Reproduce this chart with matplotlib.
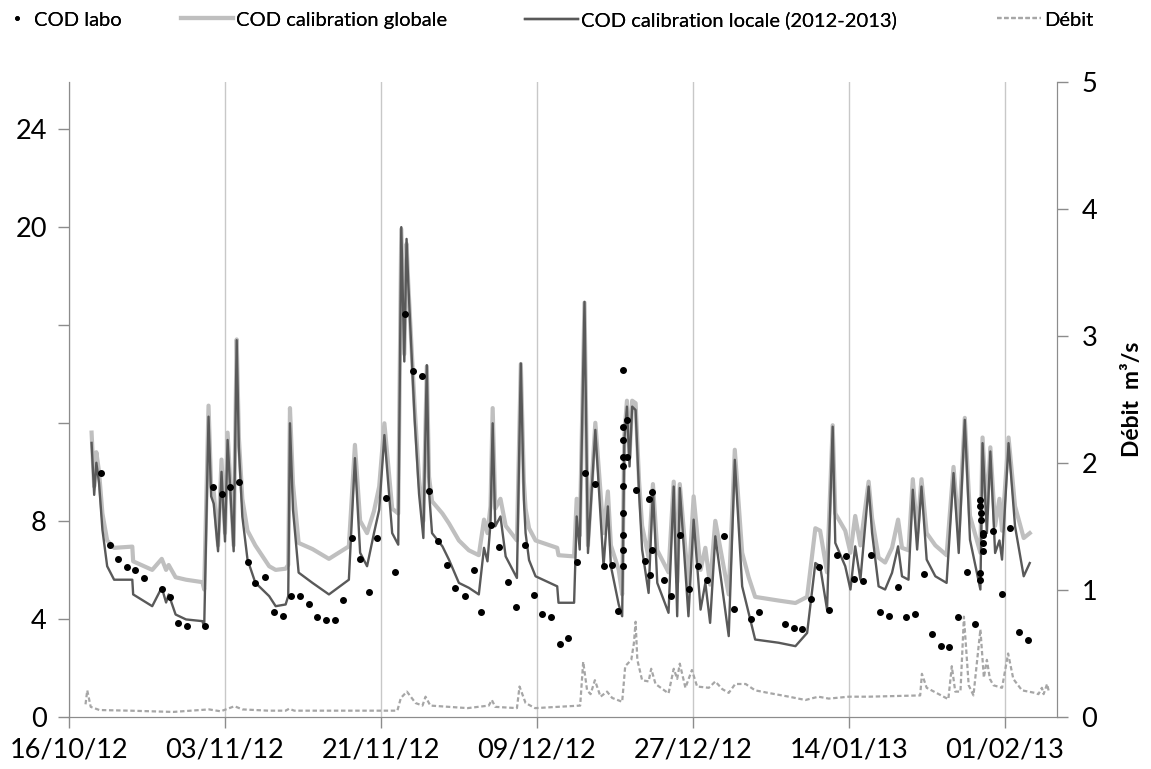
import pandas as pd
import matplotlib
matplotlib.use("Agg")
import matplotlib.pyplot as plt
import matplotlib.dates as mdates

plt.rcParams['font.family'] = ['Lato', 'DejaVu Sans']

start = pd.Timestamp('2012-10-16')

# COD sonde : jours depuis le 16/10/12, calibration locale, calibration globale
cod_days = [2.6, 2.9, 3.15, 3.46, 3.85, 4.4, 5.2, 7.3, 7.4, 9.6, 10.7, 11.2, 11.5, 12.3, 13.5, 15.4, 15.6,
            16.1, 16.4, 16.7, 17.2, 17.6, 18.0, 18.3, 19.0, 19.35, 19.6, 20.0, 20.6, 21.5, 23.1, 23.85, 25.0, 25.3,
            25.5, 25.85, 26.5, 28.1, 30.0, 32.3, 33.0, 33.6, 34.4, 35.2, 35.8, 36.4, 37.3, 38.0, 38.35, 38.7,
            38.96, 39.15, 39.9, 40.4, 40.9, 41.3, 41.55, 41.9, 43.1, 43.85, 45.0, 46.15, 47.3, 47.9, 48.3, 48.65, 48.9,
            49.2, 49.8, 50.4, 51.7, 52.15, 52.5, 52.7, 53.1, 53.85, 56.35, 56.5, 58.3, 58.6, 58.95, 59.5, 59.9, 60.75,
            61.7, 62.2, 62.55, 63.45, 63.85, 64.1, 64.4, 64.7, 65.0, 65.4, 65.8, 66.15, 66.9, 67.4, 67.9,
            69.2, 69.8, 70.2, 70.5, 71.5, 72.1, 72.9, 73.45, 74.0, 74.6, 76.15, 76.85, 77.7, 78.45, 79.2,
            81.9, 83.85, 85.2, 85.75, 86.15, 86.7, 87.5, 88.15, 88.45, 89.6, 90.2, 90.75, 91.35, 92.3, 92.7,
            93.45, 94.2, 95.0, 95.7, 96.15, 96.9, 97.4, 97.9, 98.4, 99.0, 100.0, 101.3, 102.1, 102.7, 103.4,
            104.0, 104.8, 105.2, 105.45, 105.95, 106.35, 106.9, 107.4, 107.7, 108.45, 109.2, 110.2, 110.9]
cod_local = [11.18, 9.06, 10.37, 9.55, 7.64, 6.15, 5.6, 5.6, 5.0, 4.52, 5.28, 4.67, 5.0, 4.18, 3.98, 3.91, 3.65,
             12.25, 9.0, 8.7, 6.76, 10.0, 7.16, 11.3, 6.76, 15.37, 11.0, 8.18, 6.42, 5.48, 4.93, 4.52, 4.59, 4.93,
             11.98, 8.45, 5.89, 5.47, 5.0, 5.6, 10.56, 6.7, 6.15, 7.5, 8.45, 11.5, 7.5, 7.03, 19.98, 14.5,
             19.5, 17.75, 12.1, 9.1, 7.3, 14.35, 9.2, 7.5, 6.96, 6.42, 5.47, 5.27, 5.0, 6.9, 6.35, 7.9, 11.98,
             7.78, 8.18, 6.55, 5.67, 14.42, 8.86, 7.5, 6.4, 5.74, 5.33, 4.66, 4.66, 8.18, 6.83, 16.93, 6.69, 11.71,
             6.15, 8.59, 6.15, 4.59, 4.11, 11.3, 12.66, 10.22, 12.66, 12.52, 9.13, 6.83, 5.06, 9.27, 5.47,
             4.25, 9.4, 4.11, 9.34, 4.11, 8.05, 4.38, 5.47, 3.84, 7.37, 3.3, 10.49, 5.33, 4.25, 3.16,
             3.03, 2.89, 3.43, 5.06, 6.28, 6.15, 4.38, 11.84, 7.1, 6.15, 5.2, 6.96, 5.6, 9.4, 7.5,
             5.33, 5.2, 5.88, 6.96, 5.74, 5.6, 9.27, 6.83, 9.4, 6.42, 5.74, 5.47, 9.95, 6.69, 12.12,
             7.23, 5.88, 5.2, 11.17, 7.5, 10.83, 6.69, 7.2, 6.42, 11.17, 7.78, 5.74, 6.28]
cod_global = [11.6, 9.4, 10.8, 10.0, 8.3, 7.2, 6.9, 6.95, 6.35, 6.0, 6.45, 6.0, 6.2, 5.7, 5.6, 5.5, 5.2,
              12.7, 9.4, 9.2, 7.0, 10.5, 7.5, 11.6, 7.0, 15.4, 11.4, 8.9, 7.6, 7.0, 6.15, 6.0, 6.05, 6.2,
              12.6, 9.5, 7.1, 6.85, 6.45, 6.96, 11.1, 8.0, 7.5, 8.4, 9.4, 11.98, 8.5, 8.3, 19.9, 14.8,
              19.3, 17.7, 12.6, 9.7, 8.0, 14.3, 9.8, 8.8, 8.3, 7.9, 7.2, 6.8, 6.6, 8.05, 7.5, 8.6, 12.6,
              8.5, 8.9, 7.8, 7.2, 14.4, 9.6, 8.5, 7.7, 7.2, 6.9, 6.6, 6.55, 8.9, 7.4, 16.9, 7.0, 12.0,
              7.5, 9.2, 7.0, 6.0, 5.0, 11.5, 12.9, 10.6, 12.9, 12.8, 9.6, 7.8, 6.5, 9.5, 6.8,
              5.9, 9.6, 5.5, 9.5, 5.4, 9.0, 6.0, 6.9, 5.4, 8.0, 5.0, 10.9, 6.7, 5.7, 4.9,
              4.75, 4.65, 4.9, 6.5, 7.7, 7.6, 5.9, 11.9, 8.3, 7.6, 6.7, 8.2, 7.0, 9.6, 8.1,
              6.5, 6.3, 6.9, 8.05, 6.9, 6.8, 9.7, 7.5, 9.7, 7.5, 7.0, 6.6, 10.2, 7.6, 12.2,
              8.2, 7.2, 6.7, 11.4, 8.3, 11.0, 7.8, 8.9, 7.6, 11.4, 8.6, 7.3, 7.5]

# COD labo (prélèvements)
labo_days = [3.65, 4.7, 5.6, 6.65, 7.65, 8.65, 10.7, 11.7, 12.6, 13.65, 15.7, 16.65, 17.6, 18.6, 19.6,
             20.7, 21.5, 22.65, 23.65, 24.7, 25.65, 26.65, 27.65, 28.65, 29.65, 30.65, 31.65, 32.65,
             33.6, 34.6, 35.6, 36.6, 37.6, 38.8, 39.65, 40.75, 41.5, 42.6, 43.6, 44.6, 45.7,
             46.7, 47.6, 48.7, 49.65, 50.65, 51.65, 52.65, 53.65, 54.65, 55.65, 56.65, 57.65, 58.65,
             59.6, 60.7, 61.7, 62.7, 63.4, 64.0, 64.0, 64.0, 64.0, 64.0, 64.0, 64.0, 64.0, 64.0, 64.0,
             64.45, 64.45, 65.5, 66.5, 67.0, 67.3, 67.3, 67.1, 68.65,
             69.5, 70.55, 71.6, 72.6, 73.65, 75.65, 76.75, 78.7, 79.7, 82.6, 83.65, 84.65, 85.65,
             86.55, 87.7, 88.6, 89.65, 90.6, 91.6, 92.6, 93.6, 94.65, 95.65, 96.65, 97.6, 98.65,
             99.65, 100.65, 101.6, 102.65, 103.65, 104.6, 105.2, 105.2, 105.25, 105.3, 105.5, 105.5,
             105.5, 105.45, 105.1, 105.1, 106.65, 107.65, 108.6, 109.65, 110.65]
labo_cod = [9.97, 7.03, 6.46, 6.12, 5.98, 5.67, 5.24, 4.9, 3.84, 3.73, 3.73, 9.4, 9.09, 9.38, 9.57,
            6.31, 5.47, 5.71, 4.29, 4.14, 4.93, 4.93, 4.59, 4.07, 3.95, 3.95, 4.79, 7.3,
            6.44, 5.09, 7.3, 8.93, 5.9, 16.42, 14.12, 13.9, 9.23, 7.19, 6.19, 5.27, 4.93,
            6.01, 4.27, 7.84, 6.92, 5.5, 4.49, 7.03, 4.99, 4.21, 4.07, 2.99, 3.22, 6.32,
            9.97, 9.51, 6.15, 6.21, 4.31, 14.15, 11.84, 11.3, 10.62, 10.22, 9.43, 8.32, 7.41, 6.83, 6.15,
            12.12, 10.6, 9.27, 6.38, 8.89, 9.16, 6.83, 5.78, 5.6,
            4.95, 7.44, 5.24, 6.15, 5.6, 7.4, 4.42, 4.0, 4.27, 3.8, 3.62, 3.58, 4.8,
            6.1, 4.35, 6.62, 6.55, 5.63, 5.54, 6.62, 4.3, 4.1, 5.32, 4.07, 4.19, 5.85,
            3.37, 2.89, 2.85, 4.06, 5.9, 3.81, 8.86, 8.59, 8.32, 8.05, 7.5, 7.44,
            7.1, 6.76, 5.88, 5.6, 7.57, 5.03, 7.71, 3.46, 3.16]

# Débit (m3/s)
debit_days = [1.9, 2.1, 2.5, 3.5, 7.0, 12.0, 16.15, 17.5, 19.1, 20.0, 23.0, 25.0, 25.4, 26.0, 34.0, 37.9,
              38.3, 39.0, 40.0, 40.8, 41.15, 41.7, 46.0, 48.45, 48.8, 49.2, 51.7, 52.0, 52.7, 53.8, 59.0,
              59.35, 59.8, 60.2, 60.7, 61.35, 62.1, 62.7, 63.85, 64.2, 64.9, 65.2, 65.4, 65.6, 66.15, 66.9,
              67.2, 67.7, 69.2, 69.8, 70.2, 70.5, 71.15, 71.9, 72.5, 73.85, 74.6, 75.4, 76.15, 76.9, 78.1,
              79.2, 80.7, 83.1, 85.0, 86.5, 87.7, 90.0, 92.3, 98.25, 98.45, 99.0, 100.4, 101.5, 101.9,
              102.3, 102.9, 103.3, 103.85, 104.4, 105.2, 105.6, 105.95, 106.3, 106.7, 107.7, 108.4, 109.0,
              110.0, 111.5, 111.9, 112.3, 112.5, 112.9, 113.1]
debit = [0.1, 0.21, 0.08, 0.055, 0.05, 0.04, 0.06, 0.045, 0.085, 0.06, 0.05, 0.05, 0.065, 0.05, 0.05, 0.05,
         0.15, 0.2, 0.11, 0.09, 0.16, 0.09, 0.07, 0.09, 0.134, 0.08, 0.07, 0.24, 0.11, 0.07, 0.09,
         0.435, 0.21, 0.18, 0.29, 0.16, 0.2, 0.15, 0.12, 0.4, 0.45, 0.58, 0.75, 0.45, 0.29, 0.28,
         0.38, 0.26, 0.186, 0.38, 0.3, 0.42, 0.23, 0.37, 0.24, 0.23, 0.28, 0.22, 0.19, 0.26, 0.26,
         0.21, 0.19, 0.16, 0.134, 0.16, 0.145, 0.16, 0.16, 0.17, 0.34, 0.23, 0.18, 0.14, 0.40,
         0.2, 0.2, 0.79, 0.25, 0.17, 0.69, 0.31, 0.45, 0.3, 0.25, 0.23, 0.5, 0.3,
         0.21, 0.19, 0.18, 0.23, 0.18, 0.26, 0.2]

cod_t = [start + pd.Timedelta(days=d) for d in cod_days]
labo_t = [start + pd.Timedelta(days=d) for d in labo_days]
debit_t = [start + pd.Timedelta(days=d) for d in debit_days]

fig = plt.figure(figsize=(11.51, 7.69), dpi=100)
ax = fig.add_axes([0.06, 0.0676, 0.858, 0.8258])
ax2 = ax.twinx()

l_glob, = ax.plot(cod_t, cod_global, color='#bfbfbf', lw=3.0, label='COD calibration globale', zorder=2)
l_loc, = ax.plot(cod_t, cod_local, color='#595959', lw=1.7, label='COD calibration locale (2012-2013)', zorder=3)
l_lab, = ax.plot(labo_t, labo_cod, 'o', color='black', ms=4, label='COD labo', zorder=4)
l_deb, = ax2.plot(debit_t, debit, color='#a6a6a6', lw=1.6, ls=(0, (2, 1.2)), label='Débit')

ax.set_xlim(start, start + pd.Timedelta(days=114))
ax.set_xticks([start + pd.Timedelta(days=18 * k) for k in range(7)])
ax.xaxis.set_major_formatter(mdates.DateFormatter('%d/%m/%y'))
ax.grid(axis='x', color='#c8c8c8', lw=1)
ax.set_axisbelow(True)

ax.set_ylim(0, 25.9)
ax.set_yticks([0, 4, 8, 12, 16, 20, 24])
ax.set_yticklabels(['0', '4', '8', '', '', '20', '24'])
ax2.set_ylim(0, 5)
ax2.set_yticks([0, 1, 2, 3, 4, 5])
ax2.set_ylabel('Débit  m³/s', fontsize=16.5, fontweight='bold', labelpad=18)

for a in (ax, ax2):
    a.spines['top'].set_visible(False)
    for s in ('left', 'right', 'bottom'):
        a.spines[s].set_color('#8c8c8c')
    a.tick_params(colors='#8c8c8c', labelcolor='black', labelsize=19.5, length=8, width=1)
ax.tick_params(axis='x', pad=7)
ax.tick_params(axis='y', pad=8)
ax2.tick_params(axis='y', pad=10)

# légende en haut, une entrée par bloc comme dans Excel
entries = [(l_lab, 'COD labo', 0.004, 0.6, 0.55), (l_glob, 'COD calibration globale', 0.152, 2.6, 0.15),
           (l_loc, 'COD calibration locale (2012-2013)', 0.451, 2.6, 0.15), (l_deb, 'Débit', 0.861, 2.2, 0.15)]
for h, lab, x0, hl, tp in entries:
    leg = fig.legend([h], [lab], loc='upper left', bbox_to_anchor=(x0, 0.993), frameon=False,
                     fontsize=14.5, handlelength=hl, handletextpad=tp, markerscale=0.6,
                     borderaxespad=0, borderpad=0.3)
    fig.add_artist(leg)

fig.savefig('out.png', dpi=100)
